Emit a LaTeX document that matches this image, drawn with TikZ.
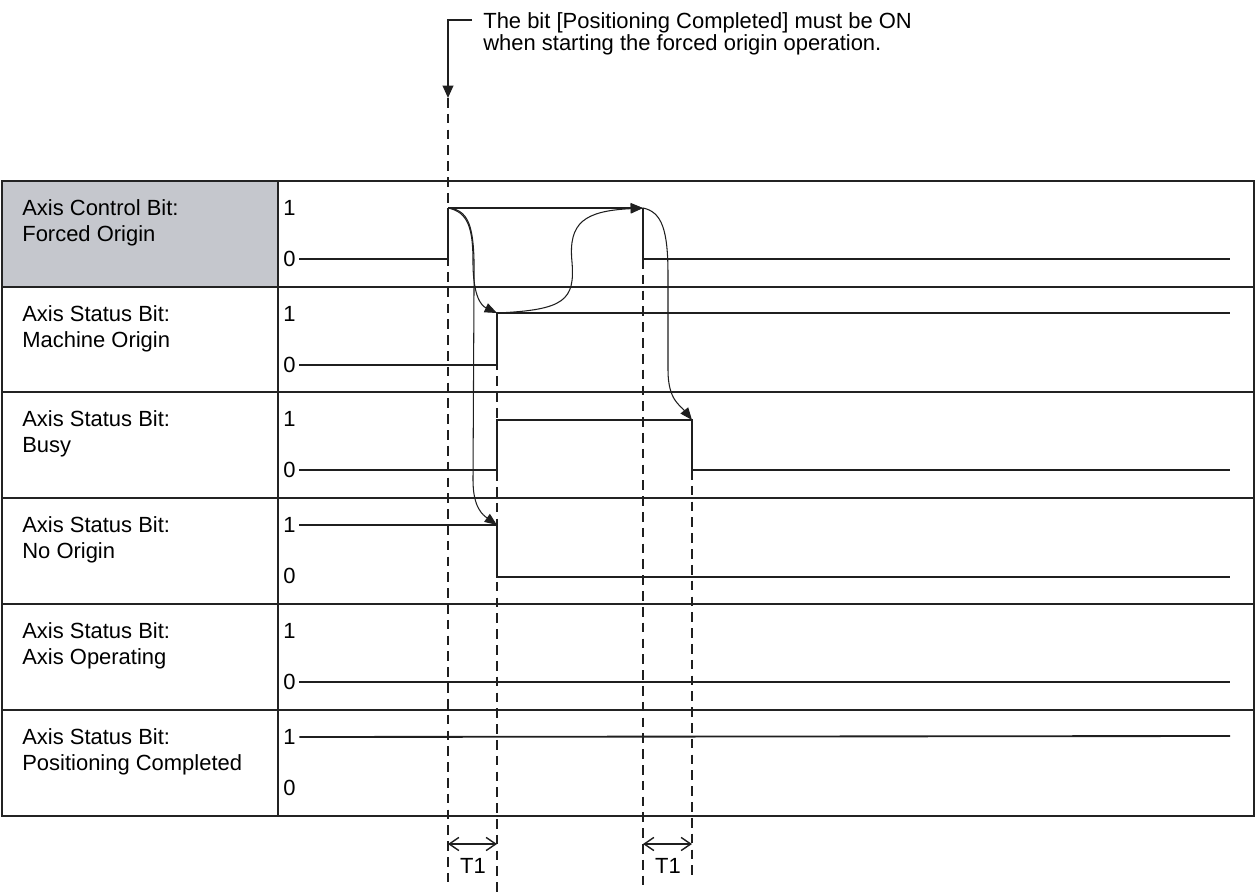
\documentclass[tikz,border=0pt]{standalone}
\usepackage{fontspec}
\setmainfont{Liberation Sans}
\usetikzlibrary{arrows.meta,calc}
\definecolor{cellgray}{RGB}{197,199,205}
\definecolor{linegray}{RGB}{35,35,35}

\tikzset{
  grid line/.style={line width=1.4pt, linegray},
  signal/.style={line width=1.05pt, black!88},
  timing/.style={line width=0.9pt, black!88, dash pattern=on 5.5pt off 3.5pt},
  cause/.style={line width=0.6pt, black!88, -{Triangle[length=7pt,width=5.5pt]}},
  dim/.style={line width=0.8pt, black!88, {Straight Barb[length=5.5pt,width=7.5pt]}-{Straight Barb[length=5.5pt,width=7.5pt]}},
  rowlabel/.style={anchor=north west, inner sep=0pt, align=left, font=\fontsize{12.5}{14.7}\selectfont},
  level/.style={anchor=west, inner sep=0pt, font=\fontsize{12.5}{14.7}\selectfont},
  note/.style={anchor=north west, inner sep=0pt, align=left, font=\fontsize{12.5}{12.6}\selectfont},
}

\begin{document}
\begin{tikzpicture}[x=0.02cm, y=-0.02cm]
  \useasboundingbox (0,0) rectangle (1259,892);

  %% Table
  \fill[cellgray] (2,181) rectangle (278,287);
  \draw[grid line] (2,181) rectangle (1254,816);
  \draw[grid line] (278,181) -- (278,816);
  \foreach \ry in {287,392,498,604,710}
    \draw[grid line] (2,\ry) -- (1254,\ry);

  %% Row labels and levels
  \foreach \n/\ry/\a/\b in {fo/181/Axis Control Bit:/Forced Origin,
                            mo/287/Axis Status Bit:/Machine Origin,
                            busy/392/Axis Status Bit:/Busy,
                            no/498/Axis Status Bit:/No Origin,
                            ao/604/Axis Status Bit:/Axis Operating,
                            pc/710/Axis Status Bit:/Positioning Completed}{
    \node[rowlabel] (lbl-\n) at (22,\ry+18.5) {\a\\\b};
    \node[level] (one-\n) at (283,\ry+27) {1};
    \node[level] (zero-\n) at (283,\ry+78) {0};
  }

  %% Edges
  \coordinate (fo-on) at (448,208);
  \coordinate (fo-off) at (643,208);
  \coordinate (mo-on) at (497,313);
  \coordinate (busy-off) at (692,420);
  \coordinate (no-off) at (497,525);

  %% Waveforms
  \draw[signal] ([xshift=2pt]zero-fo.east) -| (fo-on);
  \draw[signal, -{Triangle[length=7pt,width=5.5pt]}] (fo-on) -- (fo-off);
  \draw[signal] (fo-off) |- (1230,259);
  \draw[signal] ([xshift=2pt]zero-mo.east) -| (mo-on) -- (1230,313);
  \draw[signal] ([xshift=2pt]zero-busy.east) -| (497,420) -- (busy-off) |- (1230,470);
  \draw[signal] ([xshift=2pt]one-no.east) -| (no-off) |- (1230,577);
  \draw[signal] ([xshift=2pt]zero-ao.east) -- (1230,682);
  \draw[signal] ([xshift=2pt]one-pc.east) -- (1230,736);

  %% Note at the top
  \coordinate (note-start) at (472,20);
  \coordinate (t0-top) at (448,98);
  \node[note] (note) at (483,12) {The bit [Positioning Completed] must be ON\\when starting the forced origin operation.};
  \draw[signal, -{Triangle[length=7pt,width=6pt]}] (note-start) -| (t0-top);

  %% Timing lines
  \draw[timing] (t0-top) -- (448,888);
  \draw[timing] (mo-on) -- (497,892);
  \draw[timing] (643,259) -- (643,888);
  \draw[timing] (692,470) -- (692,878);

  %% Cause arrows
  \draw[cause] (fo-on) .. controls (468,212) and (473,228) .. (473,262) .. controls (473,298) and (482,306) .. (mo-on);
  \draw[cause] (fo-on) .. controls (472,210) and (475,232) .. (474,290) -- (473,480) .. controls (473,508) and (483,515) .. (no-off);
  \draw[cause] (mo-on) .. controls (565,310) and (575,300) .. (572,262) .. controls (568,222) and (585,211) .. (fo-off);
  \draw[cause] (fo-off) .. controls (662,212) and (668,230) .. (668,275) -- (668,370) .. controls (668,400) and (680,405) .. (busy-off);

  %% T1
  \coordinate (d0) at (448,844);
  \coordinate (d1) at (497,844);
  \coordinate (d2) at (643,844);
  \coordinate (d3) at (692,844);
  \draw[dim] (d0) -- (d1);
  \draw[dim] (d2) -- (d3);
  \node[level, anchor=center] (t1-a) at (473,866) {T1};
  \node[level, anchor=center] (t1-b) at (668,866) {T1};
\end{tikzpicture}
\end{document}
